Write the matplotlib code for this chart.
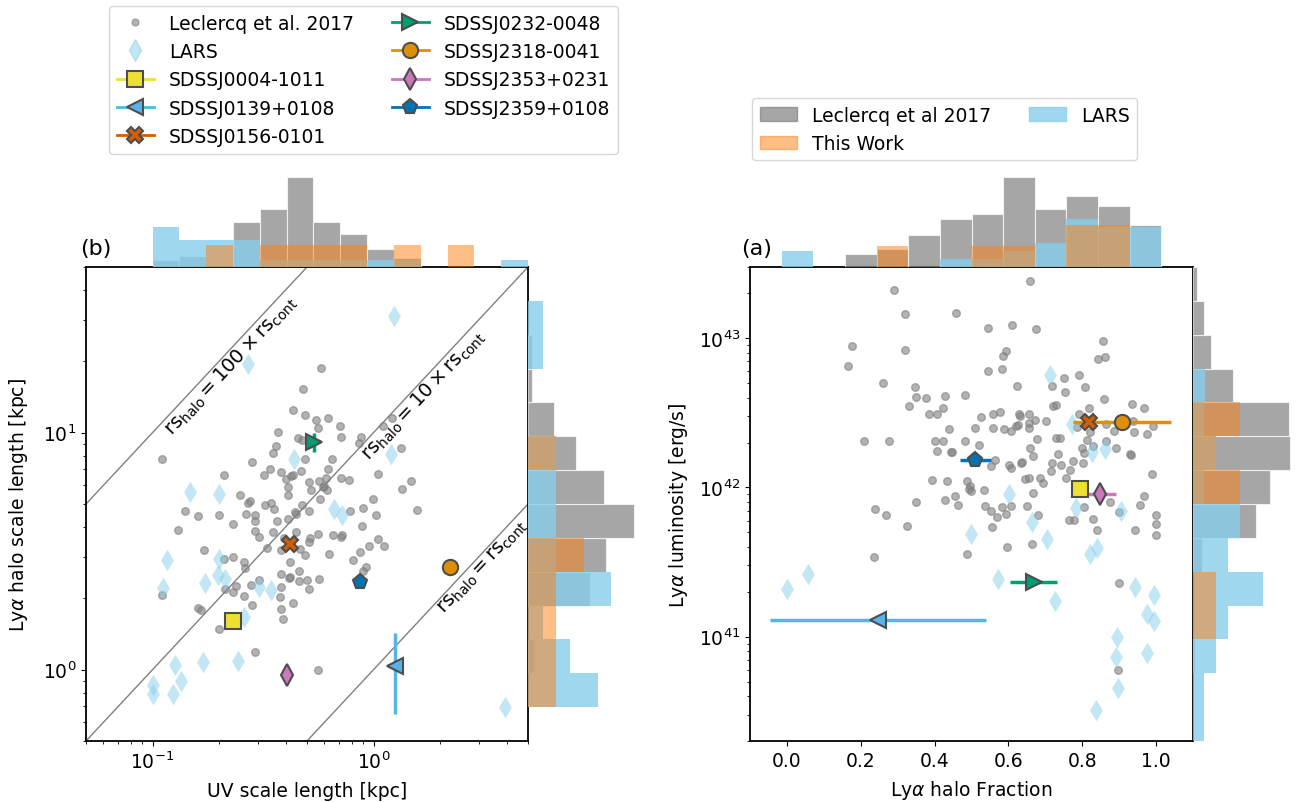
import numpy as np
import matplotlib
matplotlib.use("Agg")
import matplotlib.pyplot as plt
from matplotlib.lines import Line2D
from matplotlib.patches import Patch

# ---------------- data ----------------
# Leclercq et al. 2017 : UV scale length [kpc], Lya halo scale length [kpc]
lec_uv = [0.581, 0.482, 0.431, 0.492, 0.551, 0.622, 0.371, 0.561, 0.703, 0.476, 0.457, 0.713, 0.880, 0.856,
          0.361, 0.352, 0.110, 0.281, 0.492, 0.651, 1.21, 1.10, 1.33, 0.340, 0.380, 0.424, 0.432, 0.470,
          0.620, 0.320, 0.210, 0.401, 0.511, 0.567, 0.612, 0.589, 0.600, 0.713, 0.775, 1.05, 1.48, 1.35,
          0.409, 0.524, 0.616, 0.409, 0.250, 0.342, 0.270, 0.275, 0.322, 0.575, 0.994, 0.477, 0.140, 0.161,
          0.200, 0.264, 0.292, 0.354, 0.448, 0.442, 0.513, 0.892, 0.780, 1.03, 1.58, 0.231, 0.131, 0.292,
          0.366, 0.409, 0.290, 0.352, 0.448, 0.303, 0.395, 0.518, 0.561, 0.653, 0.715, 0.720, 0.889, 1.05,
          1.11, 0.953, 0.871, 0.804, 0.920, 0.896, 0.632, 0.488, 0.511, 0.466, 0.380, 0.331, 0.231, 0.210,
          0.171, 0.260, 0.262, 0.421, 0.461, 0.380, 0.415, 0.420, 0.459, 0.501, 0.569, 0.511, 0.302, 0.280,
          0.239, 0.212, 0.231, 0.260, 0.380, 0.281, 0.431, 0.380, 0.161, 0.165, 0.110, 0.390, 0.200, 0.290,
          0.558, 0.376]
lec_halo = [18.8, 15.3, 12.5, 11.9, 11.3, 11.5, 10.1, 10.5, 10.7, 9.28, 9.45, 9.59, 9.59, 9.07,
            8.79, 8.23, 7.72, 7.52, 7.77, 7.72, 11.5, 10.7, 8.62, 7.05, 6.83, 6.57, 6.60, 6.89,
            7.05, 6.65, 6.65, 6.35, 6.19, 6.25, 6.44, 5.90, 5.98, 6.44, 6.29, 6.71, 6.25, 5.77,
            5.90, 5.75, 5.75, 5.44, 5.46, 5.07, 5.07, 5.15, 4.97, 5.23, 5.27, 4.94, 4.67, 4.43,
            4.51, 4.52, 4.48, 4.75, 4.55, 4.62, 4.67, 4.81, 4.66, 4.51, 4.73, 4.13, 3.87, 4.22,
            4.22, 4.34, 3.85, 3.81, 3.81, 3.63, 3.61, 3.61, 3.75, 3.69, 3.63, 3.70, 4.04, 3.57,
            3.33, 3.33, 3.14, 2.91, 2.71, 2.62, 3.08, 3.04, 3.46, 3.24, 3.21, 3.27, 2.99, 2.94,
            3.21, 2.85, 2.69, 2.85, 2.60, 2.54, 2.44, 2.47, 2.37, 2.40, 2.42, 2.20, 2.40, 2.27,
            2.25, 2.20, 2.13, 2.04, 2.23, 1.88, 1.91, 1.81, 1.82, 1.79, 2.07, 1.64, 1.49, 1.19,
            1.00, 2.03]

# Leclercq et al. 2017 : Lya halo fraction, log10 Lya luminosity [erg/s]
lec_frac = [0.659, 0.291, 0.319, 0.457, 0.546, 0.610, 0.674, 0.175, 0.321, 0.166, 0.593, 0.586, 0.544, 0.583,
            0.856, 0.844, 0.861, 0.261, 0.347, 0.349, 0.378, 0.331, 0.427, 0.483, 0.422, 0.386, 0.407, 0.624,
            0.718, 0.750, 0.791, 0.808, 0.752, 0.722, 0.728, 0.819, 0.860, 0.935, 0.967, 0.527, 0.557, 0.578,
            0.628, 0.632, 0.656, 0.655, 0.672, 0.703, 0.792, 0.440, 0.510, 0.557, 0.589, 0.620, 0.625, 0.608,
            0.657, 0.786, 0.820, 0.864, 0.885, 0.940, 0.976, 0.991, 0.937, 0.209, 0.276, 0.400, 0.422, 0.483,
            0.521, 0.678, 0.730, 0.741, 0.813, 0.863, 0.892, 0.928, 0.932, 0.407, 0.444, 0.448, 0.659, 0.667,
            0.733, 0.799, 0.804, 0.828, 0.564, 0.554, 0.601, 0.608, 0.635, 0.638, 0.719, 0.714, 0.743, 0.774,
            0.767, 0.801, 0.394, 0.433, 0.488, 0.495, 0.499, 0.492, 0.533, 0.646, 0.657, 0.686, 0.693, 0.757,
            0.990, 0.667, 0.967, 0.351, 0.428, 0.454, 0.463, 0.536, 0.554, 0.568, 0.583, 0.594, 0.608, 0.651,
            0.679, 0.556, 0.239, 0.268, 0.326, 0.763, 0.779, 0.804, 0.828, 0.839, 0.900, 0.944, 0.957, 0.999,
            0.999, 1.000, 0.237, 0.488, 0.595, 0.663, 0.899, 0.897, 0.876]
lec_loglum = [43.381, 43.320, 43.160, 43.171, 43.070, 43.090, 43.060, 42.950, 42.921, 42.812, 42.912, 42.879, 42.781, 42.794,
              42.981, 42.861, 42.872, 42.700, 42.672, 42.605, 42.602, 42.548, 42.611, 42.622, 42.533, 42.491, 42.491, 42.682,
              42.680, 42.732, 42.752, 42.672, 42.640, 42.546, 42.550, 42.533, 42.593, 42.562, 42.531, 42.475, 42.493, 42.504,
              42.493, 42.480, 42.493, 42.433, 42.453, 42.444, 42.491, 42.393, 42.401, 42.401, 42.391, 42.415, 42.420, 42.379,
              42.399, 42.404, 42.371, 42.426, 42.381, 42.371, 42.359, 42.413, 42.448, 42.312, 42.312, 42.312, 42.312, 42.312,
              42.284, 42.324, 42.332, 42.332, 42.321, 42.314, 42.266, 42.223, 42.220, 42.241, 42.237, 42.240, 42.264, 42.210,
              42.223, 42.264, 42.232, 42.281, 42.183, 42.143, 42.152, 42.130, 42.165, 42.168, 42.165, 42.107, 42.152, 42.174,
              42.118, 42.165, 42.052, 42.043, 42.043, 42.013, 41.976, 41.990, 41.983, 42.058, 42.063, 42.063, 42.031, 42.063,
              42.092, 41.963, 41.942, 41.902, 41.916, 41.942, 41.884, 41.873, 41.842, 41.802, 41.871, 41.822, 41.873, 41.873,
              41.813, 41.735, 41.853, 41.813, 41.744, 41.779, 41.779, 41.869, 41.791, 41.712, 41.835, 41.712, 41.884, 41.813,
              41.753, 41.680, 41.534, 41.552, 41.601, 41.621, 41.363, 40.774, 41.902]

# LARS
lars_uv = [1.24, 0.269, 0.435, 1.20, 0.148, 0.200, 0.659, 0.719, 0.116, 0.112, 0.172, 0.199, 0.197,
           0.213, 0.303, 0.342, 0.259, 0.127, 0.169, 0.244, 0.134, 0.100, 0.100, 0.124, 3.93]
lars_halo = [31.0, 19.5, 7.77, 8.15, 5.62, 5.53, 4.78, 4.51, 2.89, 2.21, 2.31, 2.94, 2.50,
             2.42, 2.23, 2.16, 1.67, 1.05, 1.08, 1.09, 0.893, 0.859, 0.792, 0.792, 0.696]
lars_frac = [0.712, 0.773, 0.827, 0.861, 0.602, 0.784, 0.664, 0.906, 0.499, 0.705, 0.822, 0.840, 0.572,
             0.725, 0.057, 0.000, 0.942, 0.994, 0.976, 0.995, 0.894, 0.892, 0.976, 0.896, 0.836]
lars_loglum = [42.756, 42.426, 42.237, 42.259, 41.953, 41.862, 41.769, 41.839, 41.690, 41.657, 41.556, 41.595, 41.389,
               41.237, 41.423, 41.318, 41.334, 41.278, 41.149, 41.104, 40.999, 40.866, 40.894, 40.653, 40.508]

# This work
names = ["SDSSJ0004-1011", "SDSSJ0139+0108", "SDSSJ0156-0101", "SDSSJ0232-0048",
         "SDSSJ2318-0041", "SDSSJ2353+0231", "SDSSJ2359+0108"]
colors = ["#ECE133", "#56B4E9", "#D55E00", "#029E73", "#DE8F05", "#CC78BC", "#0173B2"]
markers = ["s", "<", "X", ">", "o", "d", "p"]
tw_uv = [0.231, 1.25, 0.421, 0.536, 2.22, 0.404, 0.865]
tw_halo = [1.61, 1.04, 3.38, 9.13, 2.71, 0.946, 2.34]
tw_halo_err = [0.0, 0.39, 0.0, 0.85, 0.0, 0.0, 0.0]
tw_frac = [0.793, 0.247, 0.817, 0.668, 0.908, 0.849, 0.510]
tw_frac_err = [0.0, 0.292, 0.0, 0.063, 0.132, 0.042, 0.042]
tw_lum = [9.7e41, 1.29e41, 2.76e42, 2.33e41, 2.76e42, 9.08e41, 1.52e42]

# marginal histogram heights (arbitrary units)
h_top_b_lec = [7, 11, 0, 44.7, 58.3, 90.3, 44.7, 33.3, 17.7, 8.7, 0, 0, 0, 0]
h_top_b_lars = [40.3, 26.7, 26.7, 26.7, 6.7, 6.7, 6.7, 6.7, 6.7, 6.7, 0, 0, 0, 6.7]
h_top_b_tw = [0, 0, 21.7, 0, 21.7, 21.7, 21.7, 21.7, 0, 22, 0, 21.7, 0, 0]
h_side_b_lec = [0, 0, 6, 0, 62, 78, 106, 76, 47.7, 26, 4, 4, 0, 0]
h_side_b_lars = [0, 70, 42, 14.7, 83.3, 28, 28, 28, 28, 0, 0, 14.7, 14.7, 0]
h_side_b_tw = [0, 28, 28, 28, 28, 56, 0, 0, 28, 0, 0, 0, 0, 0]
h_top_a_lec = [0, 0, 0, 12.7, 17.7, 31.7, 47.7, 52.7, 90, 58, 71.3, 60.7, 41.7, 0]
h_top_a_lars = [0, 16, 0, 0, 0, 0, 7.7, 7.7, 16, 24, 47.7, 40.3, 40, 0]
h_top_a_tw = [0, 0, 0, 0, 20.7, 0, 0, 20.7, 20.7, 0, 42, 42, 0, 0]
h_side_a_lec = [0, 0, 2.3, 0, 0, 9.3, 63.3, 77.3, 97.3, 95.7, 39.7, 18.3, 11.3, 4]
h_side_a_lars = [11.3, 11.3, 23.3, 35, 70.3, 35, 47.3, 11.3, 23.3, 11.3, 11.7, 0, 0, 0]
h_side_a_tw = [0, 0, 0, 23.3, 23.3, 0, 0, 47.3, 23.3, 47.3, 0, 0, 0, 0]

# ---------------- figure ----------------
plt.rcParams["font.family"] = ["DejaVu Sans"]
plt.rcParams["mathtext.fontset"] = "dejavusans"
FS = 13.5
W, H = 1301, 803
fig = plt.figure(figsize=(W / 100, H / 100), dpi=100)


def box(x0, y0, x1, y1):
    return [x0 / W, 1 - y1 / H, (x1 - x0) / W, (y1 - y0) / H]


axL = fig.add_axes(box(86, 268, 528, 742))
axR = fig.add_axes(box(750, 268, 1193, 742))
axL.set_xscale("log")
axL.set_yscale("log")
axR.set_yscale("log")
axLt = fig.add_axes(box(86, 170, 528, 268), sharex=axL)
axLr = fig.add_axes(box(528, 268, 638, 742), sharey=axL)
axRt = fig.add_axes(box(750, 170, 1193, 268), sharex=axR)
axRr = fig.add_axes(box(1193, 268, 1301, 742), sharey=axR)

XL = (0.05, 5)
YL = (0.5, 50)
XR = (-0.1, 1.1)
YR = (2e40, 3e43)

bins_uv = np.logspace(-1, np.log10(5), 15)
bins_halo = np.logspace(np.log10(YL[0]), np.log10(YL[1]), 15)
bins_frac = np.linspace(XR[0], XR[1], 15)
bins_lum = np.logspace(np.log10(YR[0]), np.log10(YR[1]), 15)

styles = [("grey", 0.7, "white"), ("skyblue", 0.8, "none"), ("#ff7f0e", 0.5, "none")]


def vbars(ax, edges, heights, style):
    c, a, ec = style
    h = np.asarray(heights, float)
    m = h > 0
    ax.bar(edges[:-1][m], h[m], width=np.diff(edges)[m], align="edge", color=c, alpha=a,
           edgecolor=ec, linewidth=0.8)


def hbars(ax, edges, heights, style):
    c, a, ec = style
    h = np.asarray(heights, float)
    m = h > 0
    ax.barh(edges[:-1][m], h[m], height=np.diff(edges)[m], align="edge", color=c, alpha=a,
            edgecolor=ec, linewidth=0.8)


for hs, st in zip([h_top_b_lec, h_top_b_lars, h_top_b_tw], styles):
    vbars(axLt, bins_uv, hs, st)
for hs, st in zip([h_side_b_lec, h_side_b_lars, h_side_b_tw], styles):
    hbars(axLr, bins_halo, hs, st)
for hs, st in zip([h_top_a_lec, h_top_a_lars, h_top_a_tw], styles):
    vbars(axRt, bins_frac, hs, st)
for hs, st in zip([h_side_a_lec, h_side_a_lars, h_side_a_tw], styles):
    hbars(axRr, bins_lum, hs, st)

for ax in (axLt, axRt):
    ax.set_ylim(0, 98)
    ax.axis("off")
axLr.set_xlim(0, 110)
axRr.set_xlim(0, 108)
axLr.axis("off")
axRr.axis("off")

# ---- left panel (b)
axL.scatter(lec_uv, lec_halo, s=30, color="grey", alpha=0.6, zorder=2)
axL.scatter(lars_uv, lars_halo, s=120, marker="d", color="skyblue", alpha=0.5, linewidths=0, zorder=2)
for i in range(len(names)):
    yerr = tw_halo_err[i] if tw_halo_err[i] > 0 else None
    axL.errorbar(tw_uv[i], tw_halo[i], yerr=yerr, fmt=markers[i], color=colors[i], ms=11,
                 mec="0.3", mew=1.5, elinewidth=2.5, capsize=0, zorder=5)
xx = np.array(XL)
for k in (100, 10, 1):
    axL.plot(xx, k * xx, color="grey", lw=1, zorder=1)
ang = np.degrees(np.arctan2(237, 221.6))
lbl_kw = dict(rotation=ang, rotation_mode="anchor", ha="center", va="top", fontsize=14)
axL.text(0.208, 20.8, r"$\rm rs_{halo} = 100 \times rs_{cont}$", **lbl_kw)
axL.text(1.56, 15.6, r"$\rm rs_{halo} = 10 \times rs_{cont}$", **lbl_kw)
axL.text(2.91, 2.91, r"$\rm rs_{halo} = rs_{cont}$", **lbl_kw)
axL.set_xlim(*XL)
axL.set_ylim(*YL)
axL.set_xlabel("UV scale length [kpc]", fontsize=FS, labelpad=6)
axL.set_ylabel(r"Ly$\alpha$ halo scale length [kpc]", fontsize=FS, labelpad=9)

# ---- right panel (a)
axR.scatter(lec_frac, 10 ** np.array(lec_loglum), s=30, color="grey", alpha=0.6, zorder=2)
axR.scatter(lars_frac, 10 ** np.array(lars_loglum), s=120, marker="d", color="skyblue", alpha=0.5,
            linewidths=0, zorder=2)
for i in range(len(names)):
    xerr = tw_frac_err[i] if tw_frac_err[i] > 0 else None
    axR.errorbar(tw_frac[i], tw_lum[i], xerr=xerr, fmt=markers[i], color=colors[i], ms=11,
                 mec="0.3", mew=1.5, elinewidth=2.5, capsize=0, zorder=5)
axR.set_xlim(*XR)
axR.set_ylim(*YR)
axR.set_xlabel(r"Ly$\alpha$ halo Fraction", fontsize=FS, labelpad=6)
axR.set_ylabel(r"Ly$\alpha$ luminosity [erg/s]", fontsize=FS, labelpad=6)

for ax in (axL, axR):
    ax.tick_params(labelsize=FS)
    for sp in ax.spines.values():
        sp.set_linewidth(1.3)

fig.text(80 / W, 1 - 249 / H, "(b)", fontsize=16, va="center", ha="left")
fig.text(741 / W, 1 - 249 / H, "(a)", fontsize=16, va="center", ha="left")

# legends
h1 = [Line2D([], [], ls="none", marker="o", color="grey", alpha=0.6, ms=5),
      Line2D([], [], ls="none", marker="d", color="skyblue", alpha=0.5, ms=11)]
for i in range(len(names)):
    h1.append(Line2D([], [], color=colors[i], marker=markers[i], ms=11, mec="0.3", mew=1.5, lw=2))
fig.legend(h1, ["Leclercq et al. 2017", "LARS"] + names, ncol=2, loc="upper left",
           bbox_to_anchor=(109 / W, 1 - 7 / H), borderaxespad=0, fontsize=FS, frameon=True)

h2 = [Patch(color="grey", alpha=0.7), Patch(color="#ff7f0e", alpha=0.5), Patch(color="skyblue", alpha=0.8)]
fig.legend(h2, ["Leclercq et al 2017", "This Work", "LARS"], ncol=2, loc="upper left",
           bbox_to_anchor=(752 / W, 1 - 99 / H), borderaxespad=0, fontsize=FS, frameon=True)

fig.savefig("out.png", dpi=100)
